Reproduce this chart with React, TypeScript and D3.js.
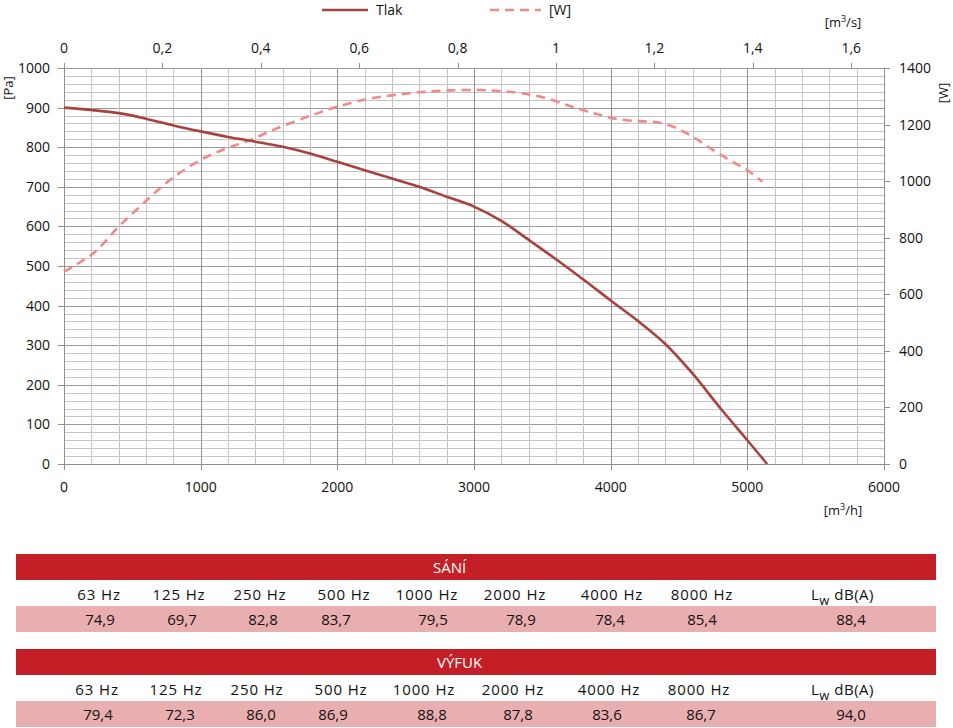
import React from 'react';
import * as d3 from 'd3';

// ---- Data ----
const flowP = [0, 400, 600, 800, 1000, 1200, 1400, 1600, 1800, 2000, 2200, 2400, 2600, 2800, 3000, 3200, 3400, 3600, 3800, 4000, 4200, 4400, 4600, 4800, 5000, 5145];
const pressure = [900, 886, 872, 855, 840, 826, 814, 801, 784, 763, 742, 721, 700, 675, 650, 614, 566, 517, 466, 413, 361, 303, 228, 142, 60, 0];

const flowW = [0, 215, 400, 580, 775, 1000, 1190, 1360, 1560, 1820, 2000, 2215, 2410, 2600, 2800, 3040, 3200, 3360, 3530, 3680, 3800, 3900, 4020, 4170, 4340, 4460, 4600, 4750, 4900, 5000, 5110];
const power = [680, 745, 839, 921, 1004, 1075, 1116, 1145, 1187, 1234, 1263, 1290, 1304, 1314, 1320, 1322, 1318, 1310, 1293, 1269, 1251, 1237, 1222, 1213, 1208, 1192, 1157, 1110, 1066, 1039, 998];

const bottomTicks = [0, 1000, 2000, 3000, 4000, 5000, 6000];
const topTicks = [0, 0.2, 0.4, 0.6, 0.8, 1, 1.2, 1.4, 1.6];
const leftTicks = [0, 100, 200, 300, 400, 500, 600, 700, 800, 900, 1000];
const rightTicks = [0, 200, 400, 600, 800, 1000, 1200, 1400];

const seriesNames = ['Tlak', '[W]'];

const freqLabels = ['63 Hz', '125 Hz', '250 Hz', '500 Hz', '1000 Hz', '2000 Hz', '4000 Hz', '8000 Hz'];
const saniValues = ['74,9', '69,7', '82,8', '83,7', '79,5', '78,9', '78,4', '85,4'];
const saniTotal = '88,4';
const vyfukValues = ['79,4', '72,3', '86,0', '86,9', '88,8', '87,8', '83,6', '86,7'];
const vyfukTotal = '94,0';

// ---- Layout ----
const W = 953, H = 728;
const PL = 64, PR = 884, PT = 68, PB = 464;
const FONT = "'Open Sans', 'DejaVu Sans', sans-serif";
const RED = '#c41f27';
const PINK = '#e9aeb0';
const C_TLAK = '#a8423e';
const C_W = '#f08a86';

const x = d3.scaleLinear().domain([0, 6000]).range([PL, PR]);
const xTop = d3.scaleLinear().domain([0, 6000 / 3600]).range([PL, PR]);
const yL = d3.scaleLinear().domain([0, 1000]).range([PB, PT]);
const yR = d3.scaleLinear().domain([0, 1400]).range([PB, PT]);

const fmtComma = (v: number) => String(+v.toFixed(1)).replace('.', ',');

const headerX = [99, 179, 260, 344, 427, 515, 612, 702];
const valueX = [100, 182, 263, 336, 433, 521, 610, 702];
const header2X = [97, 176, 257, 341, 424, 513, 609, 699];
const value2X = [98, 180, 261, 333, 432, 518, 607, 701];

function Table({ top, title, titleX, values, total, hx, vx }: any) {
  const barY = top;
  const headY = top + 46;
  const rowY = top + 52;
  return (
    <g fontFamily={FONT}>
      <rect x={16} y={barY} width={920} height={26} fill={RED} />
      <text x={titleX} y={barY + 19} fill="#fff" fontSize={15}>{title}</text>
      {freqLabels.map((f, i) => (
        <text key={f} x={hx[i]} y={headY} textAnchor="middle" fontSize={15} letterSpacing={0.9} fill="#111">{f}</text>
      ))}
      <text x={811} y={headY} fontSize={15} fill="#111" letterSpacing={0.5}>
        L<tspan dy={5} fontSize={13}>w</tspan><tspan dy={-5}> dB(A)</tspan>
      </text>
      <rect x={16} y={rowY} width={920} height={26} fill={PINK} />
      {values.map((v: string, i: number) => (
        <text key={i} x={vx[i]} y={rowY + 19} textAnchor="middle" fontSize={15} fill="#111">{v}</text>
      ))}
      <text x={851} y={rowY + 19} textAnchor="middle" fontSize={15} fill="#111">{total}</text>
    </g>
  );
}

export default function App() {
  const tlakPts = flowP.map((f, i) => [x(f), yL(pressure[i])] as [number, number]);
  const wPts = flowW.map((f, i) => [x(f), yR(power[i])] as [number, number]);
  const line = d3.line().curve(d3.curveCatmullRom.alpha(0.5));

  const vGrid = d3.range(0, 6001, 200);
  const hGrid = d3.range(0, 1001, 20);

  return (
    <svg width={W} height={H} style={{ position: 'absolute', left: 0, top: 0, background: '#fff' }}>
      <rect width={W} height={H} fill="#fff" />
      {/* grid */}
      <g shapeRendering="crispEdges">
        {hGrid.map((v) => (
          <line key={'h' + v} x1={PL} x2={PR} y1={Math.round(yL(v)) + 0.5} y2={Math.round(yL(v)) + 0.5}
            stroke={v % 100 === 0 ? '#9a9a9a' : '#c4c4c4'} strokeWidth={1} />
        ))}
        {vGrid.map((v) => (
          <line key={'v' + v} y1={PT} y2={PB} x1={Math.round(x(v)) + 0.5} x2={Math.round(x(v)) + 0.5}
            stroke={v % 1000 === 0 ? '#8f8f8f' : '#c4c4c4'} strokeWidth={1} />
        ))}
        {/* axes lines */}
        <line x1={PL + 0.5} x2={PL + 0.5} y1={PT} y2={PB} stroke="#8f8f8f" />
        <line x1={PR + 0.5} x2={PR + 0.5} y1={PT} y2={PB} stroke="#8f8f8f" />
        <line x1={PL} x2={PR} y1={PB + 0.5} y2={PB + 0.5} stroke="#8f8f8f" />
        <line x1={PL} x2={PR} y1={PT + 0.5} y2={PT + 0.5} stroke="#9a9a9a" />
        {/* ticks */}
        {leftTicks.map((v) => (
          <line key={'lt' + v} x1={PL - 6} x2={PL} y1={Math.round(yL(v)) + 0.5} y2={Math.round(yL(v)) + 0.5} stroke="#8f8f8f" />
        ))}
        {rightTicks.map((v) => (
          <line key={'rt' + v} x1={PR} x2={PR + 6} y1={Math.round(yR(v)) + 0.5} y2={Math.round(yR(v)) + 0.5} stroke="#8f8f8f" />
        ))}
        {bottomTicks.map((v) => (
          <line key={'bt' + v} y1={PB} y2={PB + 6} x1={Math.round(x(v)) + 0.5} x2={Math.round(x(v)) + 0.5} stroke="#8f8f8f" />
        ))}
        {topTicks.map((v) => (
          <line key={'tt' + v} y1={PT - 5} y2={PT} x1={Math.round(xTop(v)) + 0.5} x2={Math.round(xTop(v)) + 0.5} stroke="#8f8f8f" />
        ))}
      </g>

      {/* series */}
      <path d={line(wPts) || ''} fill="none" stroke={C_W} strokeWidth={2.6} strokeDasharray="9,6" />
      <path d={line(tlakPts) || ''} fill="none" stroke={C_TLAK} strokeWidth={2.6} />

      {/* axis labels */}
      <g fontFamily={FONT} fontSize={14} fill="#111">
        {leftTicks.map((v) => (
          <text key={'ll' + v} x={50} y={yL(v) + 5} textAnchor="end">{v}</text>
        ))}
        {rightTicks.map((v) => (
          <text key={'rl' + v} x={899} y={yR(v) + 5} textAnchor="start">{v}</text>
        ))}
        {bottomTicks.map((v) => (
          <text key={'bl' + v} x={x(v)} y={492} textAnchor="middle">{v}</text>
        ))}
        {topTicks.map((v) => (
          <text key={'tl' + v} x={xTop(v)} y={53} textAnchor="middle">{fmtComma(v)}</text>
        ))}
        <text x={843} y={27} textAnchor="middle" fontSize={13}>
          [m<tspan dy={-5} fontSize={9}>3</tspan><tspan dy={5}>/s]</tspan>
        </text>
        <text x={843} y={515} textAnchor="middle" fontSize={13}>
          [m<tspan dy={-5} fontSize={9}>3</tspan><tspan dy={5}>/h]</tspan>
        </text>
        <text transform="translate(13,88) rotate(-90)" textAnchor="middle" fontSize={13}>[Pa]</text>
        <text transform="translate(948,93) rotate(-90)" textAnchor="middle" fontSize={13}>[W]</text>
      </g>

      {/* legend */}
      <g fontFamily={FONT} fontSize={14} fill="#111">
        <line x1={322} x2={368} y1={10} y2={10} stroke={C_TLAK} strokeWidth={2.6} />
        <text x={376} y={15}>{seriesNames[0]}</text>
        <line x1={490} x2={541} y1={10} y2={10} stroke={C_W} strokeWidth={2.6} strokeDasharray="9,6" />
        <text x={549} y={15}>{seriesNames[1]}</text>
      </g>

      <Table top={554} title="SÁNÍ" titleX={433} values={saniValues} total={saniTotal} hx={headerX} vx={valueX} />
      <Table top={649} title="VÝFUK" titleX={437} values={vyfukValues} total={vyfukTotal} hx={header2X} vx={value2X} />
    </svg>
  );
}
